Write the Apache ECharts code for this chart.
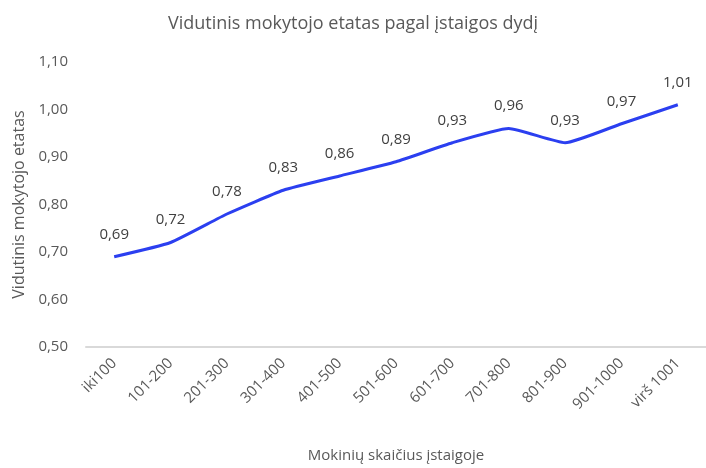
<!DOCTYPE html>
<html>
<head>
<meta charset="utf-8">
<script src="https://cdn.jsdelivr.net/npm/echarts@6/dist/echarts.min.js"></script>
<style>
  html, body { margin: 0; padding: 0; background: #fff; }
  #chart { width: 706px; height: 468px; }
</style>
</head>
<body>
<div id="chart"></div>
<script>
// duomenys
var categories = ['iki100', '101-200', '201-300', '301-400', '401-500', '501-600',
  '601-700', '701-800', '801-900', '901-1000', 'virš 1001'];
var etatas = [0.69, 0.72, 0.78, 0.83, 0.86, 0.89, 0.93, 0.96, 0.93, 0.97, 1.01];

function comma(v, d) {
  return v.toFixed(d).replace('.', ',');
}

var myChart = echarts.init(document.getElementById('chart'));
var fontName = '"Open Sans", "Liberation Sans", sans-serif';
var option = {
  backgroundColor: '#fff',
  textStyle: { fontFamily: fontName },
  title: {
    text: 'Vidutinis mokytojo etatas pagal įstaigos dydį',
    left: 'center',
    top: 10,
    textStyle: { fontSize: 18, fontWeight: 'normal', color: '#595959', fontFamily: fontName }
  },
  grid: {
    left: 86,
    right: 0,
    top: 62,
    bottom: 121,
    outerBoundsMode: 'none',
    containLabel: false
  },
  xAxis: {
    type: 'category',
    data: categories,
    boundaryGap: true,
    name: 'Mokinių skaičius įstaigoje',
    nameLocation: 'middle',
    nameGap: 101,
    nameTextStyle: { fontSize: 15, color: '#595959' },
    axisLine: { lineStyle: { color: '#d9d9d9', width: 2 } },
    axisTick: { show: false },
    axisLabel: { rotate: 45, fontSize: 15, color: '#595959', margin: 14 }
  },
  yAxis: {
    type: 'value',
    min: 0.5,
    max: 1.1,
    interval: 0.1,
    name: 'Vidutinis mokytojo etatas',
    nameLocation: 'middle',
    nameGap: 51,
    nameTextStyle: { fontSize: 16, color: '#595959' },
    axisLine: { show: false },
    axisTick: { show: false },
    splitLine: { show: false },
    axisLabel: {
      fontSize: 15,
      color: '#595959',
      margin: 18,
      formatter: function (v) { return comma(v, 2); }
    }
  },
  series: [{
    type: 'line',
    data: etatas,
    smooth: 0.15,
    showSymbol: true,
    symbol: 'circle',
    symbolSize: 2,
    itemStyle: { color: 'rgba(43,63,240,0)', borderWidth: 0 },
    lineStyle: { color: '#2b3ff0', width: 3 },
    label: {
      show: true,
      position: 'top',
      distance: 14,
      fontSize: 15,
      color: '#404040',
      formatter: function (p) { return comma(p.value, 2); }
    }
  }]
};

if (option && typeof option === "object") {
  myChart.setOption(option, true);
}
</script>
</body>
</html>
